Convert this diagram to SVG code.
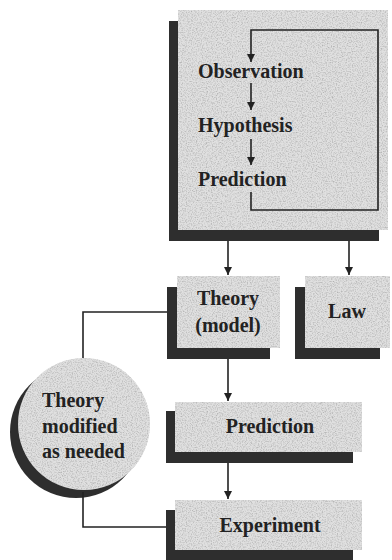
<svg xmlns="http://www.w3.org/2000/svg" width="392" height="560" viewBox="0 0 392 560">
<defs>
<filter id="speckle" x="0" y="0" width="1" height="1">
<feTurbulence type="fractalNoise" baseFrequency="0.8" numOctaves="2" seed="3" result="n"/>
<feColorMatrix in="n" type="matrix" values="0 0 0 0 0  0 0 0 0 0  0 0 0 0 0  0 0 0 -1.8 1.05" result="dots"/>
<feComposite in="dots" in2="SourceGraphic" operator="in" result="d2"/>
<feFlood flood-color="#a6a6a6" result="c"/>
<feComposite in="c" in2="d2" operator="in" result="d3"/>
<feMerge><feMergeNode in="SourceGraphic"/><feMergeNode in="d3"/></feMerge>
</filter>
<marker id="arr" viewBox="0 0 10 10" refX="10" refY="5" markerWidth="8" markerHeight="8" markerUnits="userSpaceOnUse" orient="auto">
<path d="M0,0 L10,5 L0,10 z" fill="#222"/>
</marker>
</defs>
<style>
.box{fill:#e0e0e0;filter:url(#speckle)}
.sh{fill:#2e2e2e}
.t{font-family:"Liberation Serif","Times New Roman",serif;font-weight:bold;font-size:20px;fill:#222}
.c{text-anchor:middle}
.ln{fill:none;stroke:#222;stroke-width:1.6}
</style>
<rect width="392" height="560" fill="#fff"/>

<g id="method">
<rect class="sh" x="169" y="21" width="210" height="220"/>
<rect class="box" x="178" y="10" width="210" height="220"/>
<path class="ln" d="M251,192 V210 H378 V30 H251 V62" marker-end="url(#arr)"/>
<text class="t" x="198" y="78">Observation</text>
<text class="t" x="198" y="132">Hypothesis</text>
<text class="t" x="198" y="186">Prediction</text>
<path class="ln" d="M251,83 V110" marker-end="url(#arr)"/>
<path class="ln" d="M251,139 V165" marker-end="url(#arr)"/>
</g>

<g id="theory">
<rect class="sh" x="167" y="287" width="103" height="72"/>
<rect class="box" x="177" y="276" width="103" height="72"/>
<text class="t c" x="228" y="305">Theory</text>
<text class="t c" x="228" y="332">(model)</text>
</g>

<g id="law">
<rect class="sh" x="295" y="287" width="85" height="72"/>
<rect class="box" x="305" y="276" width="85" height="72"/>
<text class="t c" x="347" y="318">Law</text>
</g>

<g id="prediction">
<rect class="sh" x="166" y="411" width="187" height="52"/>
<rect class="box" x="175" y="402" width="187" height="50"/>
<text class="t c" x="270" y="433">Prediction</text>
</g>

<g id="experiment">
<rect class="sh" x="166" y="510" width="187" height="50"/>
<rect class="box" x="175" y="500" width="187" height="50"/>
<text class="t c" x="270" y="532">Experiment</text>
</g>

<g id="modified">
<circle class="sh" cx="76" cy="432" r="66"/>
<circle class="box" cx="84" cy="424" r="66"/>
<text class="t" x="42" y="407">Theory</text>
<text class="t" x="42" y="433">modified</text>
<text class="t" x="42" y="458">as needed</text>
</g>

<g id="connectors">
<path class="ln" d="M228,241 V275" marker-end="url(#arr)"/>
<path class="ln" d="M349,241 V275" marker-end="url(#arr)"/>
<path class="ln" d="M228,359 V401" marker-end="url(#arr)"/>
<path class="ln" d="M228,463 V499" marker-end="url(#arr)"/>
<path class="ln" d="M167,312 H83 V358"/>
<path class="ln" d="M83,492 V527 H166"/>
</g>
</svg>
